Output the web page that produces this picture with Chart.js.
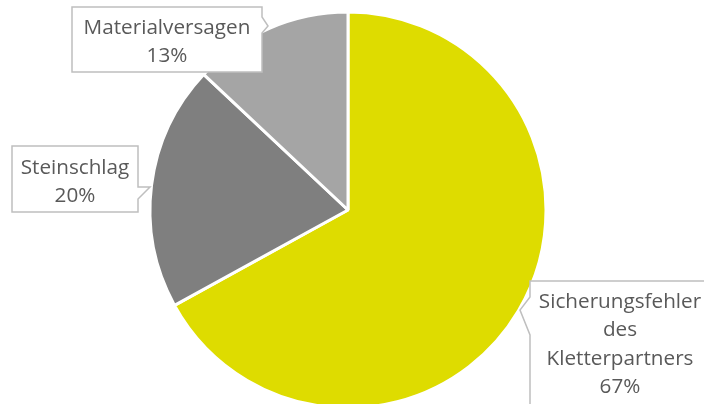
<!DOCTYPE html>
<html>
<head>
<meta charset="utf-8">
<script src="https://cdn.jsdelivr.net/npm/chart.js@4/dist/chart.umd.min.js"></script>
<style>
  html, body { margin: 0; padding: 0; background: #fff; overflow: hidden; }
  #wrap { width: 704px; height: 420px; position: relative; }
</style>
</head>
<body>
<div id="wrap"><canvas id="c"></canvas></div>
<script>
const categories = ["Sicherungsfehler des Kletterpartners", "Steinschlag", "Materialversagen"];
const labelLines = [["Sicherungsfehler", "des", "Kletterpartners"], ["Steinschlag"], ["Materialversagen"]];
const values = [67, 20, 13];
const colors = ["#DEDC00", "#7F7F7F", "#A5A5A5"];

// callout boxes: x, y, w, h, text anchor and pointer points
const callouts = [
  { x: 530, y: 281, w: 200, h: 140, tx: 620, ty: 302, ptr: [[530, 297], [520, 310], [530, 335]] },
  { x: 12, y: 146, w: 126, h: 66, tx: 75, ty: 168, ptr: [[138, 187], [150, 187], [138, 199]] },
  { x: 72, y: 7, w: 190, h: 65, tx: 167, ty: 28, ptr: [[262, 17], [268, 26], [262, 33]] }
];

const calloutPlugin = {
  id: "callouts",
  afterDraw(chart) {
    const ctx = chart.ctx;
    const total = values.reduce((a, b) => a + b, 0);
    ctx.save();
    // size the font so "Materialversagen" is as wide as in the original
    ctx.font = "20px 'Open Sans'";
    const w = ctx.measureText("Materialversagen").width;
    const size = Math.min(22, 20 * 167 / w);
    ctx.font = size.toFixed(1) + "px 'Open Sans'";
    ctx.textAlign = "center";
    ctx.textBaseline = "middle";
    callouts.forEach((c, i) => {
      ctx.beginPath();
      const p = c.ptr;
      if (p[0][0] === c.x) {
        ctx.moveTo(c.x, c.y);
        ctx.lineTo(c.x + c.w, c.y);
        ctx.lineTo(c.x + c.w, c.y + c.h);
        ctx.lineTo(c.x, c.y + c.h);
        ctx.lineTo(p[2][0], p[2][1]);
        ctx.lineTo(p[1][0], p[1][1]);
        ctx.lineTo(p[0][0], p[0][1]);
        ctx.closePath();
      } else {
        ctx.moveTo(c.x, c.y);
        ctx.lineTo(c.x + c.w, c.y);
        ctx.lineTo(p[0][0], p[0][1]);
        ctx.lineTo(p[1][0], p[1][1]);
        ctx.lineTo(p[2][0], p[2][1]);
        ctx.lineTo(c.x + c.w, c.y + c.h);
        ctx.lineTo(c.x, c.y + c.h);
        ctx.closePath();
      }
      ctx.fillStyle = "#ffffff";
      ctx.fill();
      ctx.strokeStyle = "#BFBFBF";
      ctx.lineWidth = 1.5;
      ctx.stroke();

      const lines = labelLines[i].concat([Math.round(values[i] / total * 100) + "%"]);
      ctx.fillStyle = "#595959";
      lines.forEach((t, k) => ctx.fillText(t, c.tx, c.ty + k * 28.5));
    });
    ctx.restore();
  }
};

new Chart(document.getElementById("c"), {
  type: "pie",
  data: {
    labels: categories,
    datasets: [{
      data: values,
      backgroundColor: colors,
      borderColor: "#ffffff",
      borderWidth: 3,
      radius: 198
    }]
  },
  options: {
    responsive: true,
    maintainAspectRatio: false,
    animation: false,
    layout: { padding: { top: 12, bottom: 12, left: 150, right: 158 } },
    plugins: {
      legend: { display: false },
      tooltip: { enabled: false }
    }
  },
  plugins: [calloutPlugin]
});
</script>
</body>
</html>
